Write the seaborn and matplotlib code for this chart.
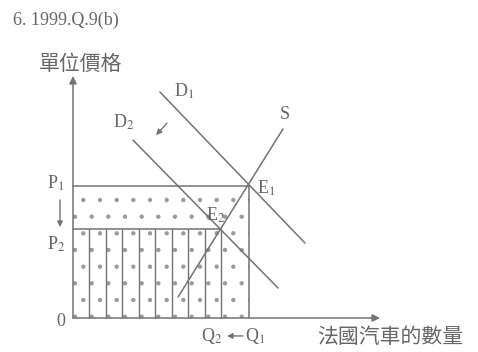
import numpy as np
import pandas as pd
import matplotlib
matplotlib.use('Agg')
import matplotlib.pyplot as plt
import seaborn as sns

# equilibrium points (Q in units where Q1 = 10, P in units where P1 = 10)
Q1, P1 = 10.0, 10.0
Q2, P2 = 8.41, 6.74

# curve end points
supply_q = [5.97, 11.93]
supply_p = [1.59, 14.32]
d1_q = [4.94, 13.18]
d1_p = [17.12, 5.68]
d2_q = [3.41, 11.65]
d2_p = [13.48, 2.27]

curve_names = ['S', 'D1', 'D2']

sns.set_style('white')
plt.rcParams['font.family'] = ['Liberation Serif', 'Noto Sans CJK TC', 'DejaVu Sans']
plt.rcParams['mathtext.fontset'] = 'stix'
plt.rcParams['hatch.linewidth'] = 0.7

grey = '#737373'
tgrey = '#666666'

fig = plt.figure(figsize=(4.78, 3.52), dpi=100)
ax = fig.add_axes([0, 0, 1, 1])
ax.set_xlim(-73 / 17.6, 405 / 17.6)
ax.set_ylim(-34 / 13.2, 318 / 13.2)
ax.axis('off')

df = pd.DataFrame({
    'q': supply_q + d1_q + d2_q,
    'p': supply_p + d1_p + d2_p,
    'curve': [c for c in curve_names for _ in range(2)],
})
sns.lineplot(data=df, x='q', y='p', units='curve', estimator=None,
             color=grey, lw=1.1, ax=ax, legend=False, sort=False)

# dotted area 0..Q1 x 0..P1
ax.fill_between([0, Q1], 0, P1, facecolor='none', edgecolor='#9a9a9a',
                hatch='.', linewidth=0)
# price / quantity guides
ax.plot([0, Q1], [P1, P1], color=grey, lw=1.1)
ax.plot([Q1, Q1], [0, P1], color=grey, lw=1.1)
ax.plot([0, Q2], [P2, P2], color=grey, lw=1.1)
# vertical stripes for the new revenue area
stripes = np.linspace(0, Q2, 10)[1:]
ax.vlines(stripes, 0, P2, color=grey, lw=1.0)

# axes with arrows
arr = dict(arrowstyle='-|>', color=grey, lw=1.1, mutation_scale=11, shrinkA=0, shrinkB=0)
ax.annotate('', xy=(17.44, 0), xytext=(0, 0), arrowprops=arr)
ax.annotate('', xy=(0, 18.33), xytext=(0, 0), arrowprops=arr)

# small shift arrows
sarr = dict(arrowstyle='-|>', color=grey, lw=1.0, mutation_scale=8, shrinkA=0, shrinkB=0)
ax.annotate('', xy=(-0.74, 6.89), xytext=(-0.74, 8.94), arrowprops=sarr)
ax.annotate('', xy=(4.72, 13.86), xytext=(5.34, 14.77), arrowprops=sarr)
ax.annotate('', xy=(8.75, -1.36), xytext=(9.66, -1.36), arrowprops=sarr)

kw = dict(color=tgrey, ha='center', va='center', fontsize=13)
ax.text(6.31, 17.2, r'D$_1$', **kw)
ax.text(2.90, 14.85, r'D$_2$', **kw)
ax.text(12.05, 15.38, 'S', **kw)
ax.text(10.97, 9.85, r'E$_1$', **kw)
ax.text(8.13, 7.80, r'E$_2$', **kw)
ax.text(-0.97, 10.23, r'P$_1$', **kw)
ax.text(-0.97, 5.61, r'P$_2$', **kw)
ax.text(-0.68, -0.23, '0', **kw)
ax.text(7.90, -1.36, r'Q$_2$', **kw)
ax.text(10.34, -1.36, r'Q$_1$', **kw)

ax.text(0.45, 19.17, '單位價格', color=tgrey, ha='center', va='center', fontsize=15)
ax.text(18.01, -1.52, '法國汽車的數量', color=tgrey, ha='center', va='center', fontsize=15)
fig.text(0.027, 0.943, '6. 1999.Q.9(b)', color=tgrey, ha='left', va='center', fontsize=13)

fig.savefig('out.png', dpi=100)
